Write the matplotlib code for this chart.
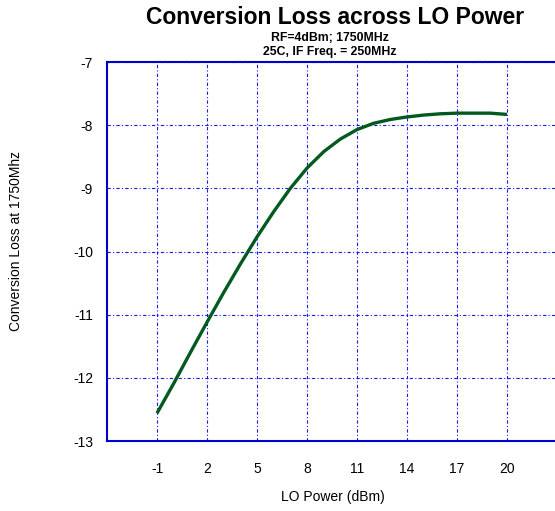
import matplotlib
matplotlib.use('Agg')
import matplotlib.pyplot as plt

lo_power = [-1, 0, 1, 2, 3, 4, 5, 6, 7, 8, 9, 10, 11, 12, 13, 14, 15, 16, 17, 18, 19, 20]
conv_loss = [-12.56, -12.09, -11.60, -11.12, -10.65, -10.20, -9.77, -9.37, -9.00, -8.68, -8.42,
             -8.22, -8.07, -7.97, -7.91, -7.87, -7.84, -7.82, -7.81, -7.81, -7.81, -7.83]
x_ticks = [-1, 2, 5, 8, 11, 14, 17, 20]
y_ticks = [-13, -12, -11, -10, -9, -8, -7]

plt.rcParams['font.family'] = ['Liberation Sans', 'DejaVu Sans']
plt.rcParams['axes.unicode_minus'] = False

fig = plt.figure(figsize=(5.55, 5.11), dpi=100)
ax = fig.add_axes([107/555, 70/511, 450/555, 379/511])

ax.plot(lo_power, conv_loss, color='#005a1e', linewidth=2.4, solid_capstyle='butt')

ax.set_xlim(-4, 23)
ax.set_ylim(-13, -7)
ax.set_xticks(x_ticks)
ax.set_yticks(y_ticks)
ax.tick_params(length=0, labelsize=10, colors='black')
ax.tick_params(axis='x', pad=15)
ax.tick_params(axis='y', pad=10)

ax.grid(True, color='#1a1aee', linestyle=(0, (3, 2, 1, 2)), linewidth=0.8)
for s in ['top', 'bottom', 'left']:
    ax.spines[s].set_color('#0000cc')
    ax.spines[s].set_linewidth(1.5)
ax.spines['right'].set_visible(False)

fig.text(333/555, 1 - 497/511, 'LO Power (dBm)', ha='center', va='center', fontsize=10)
fig.text(16/555, 1 - 241/511, 'Conversion Loss at 1750Mhz', rotation=90,
         ha='center', va='center', fontsize=10)

fig.text(335/555, 1 - 18/511, 'Conversion Loss across LO Power', ha='center', va='center',
         fontsize=16.5, fontweight='bold')
fig.text(330/555, 1 - 38/511, 'RF=4dBm; 1750MHz', ha='center', va='center',
         fontsize=8.8, fontweight='bold')
fig.text(330/555, 1 - 52/511, '25C, IF Freq. = 250MHz', ha='center', va='center',
         fontsize=8.8, fontweight='bold')

fig.savefig('out.png', dpi=100)
